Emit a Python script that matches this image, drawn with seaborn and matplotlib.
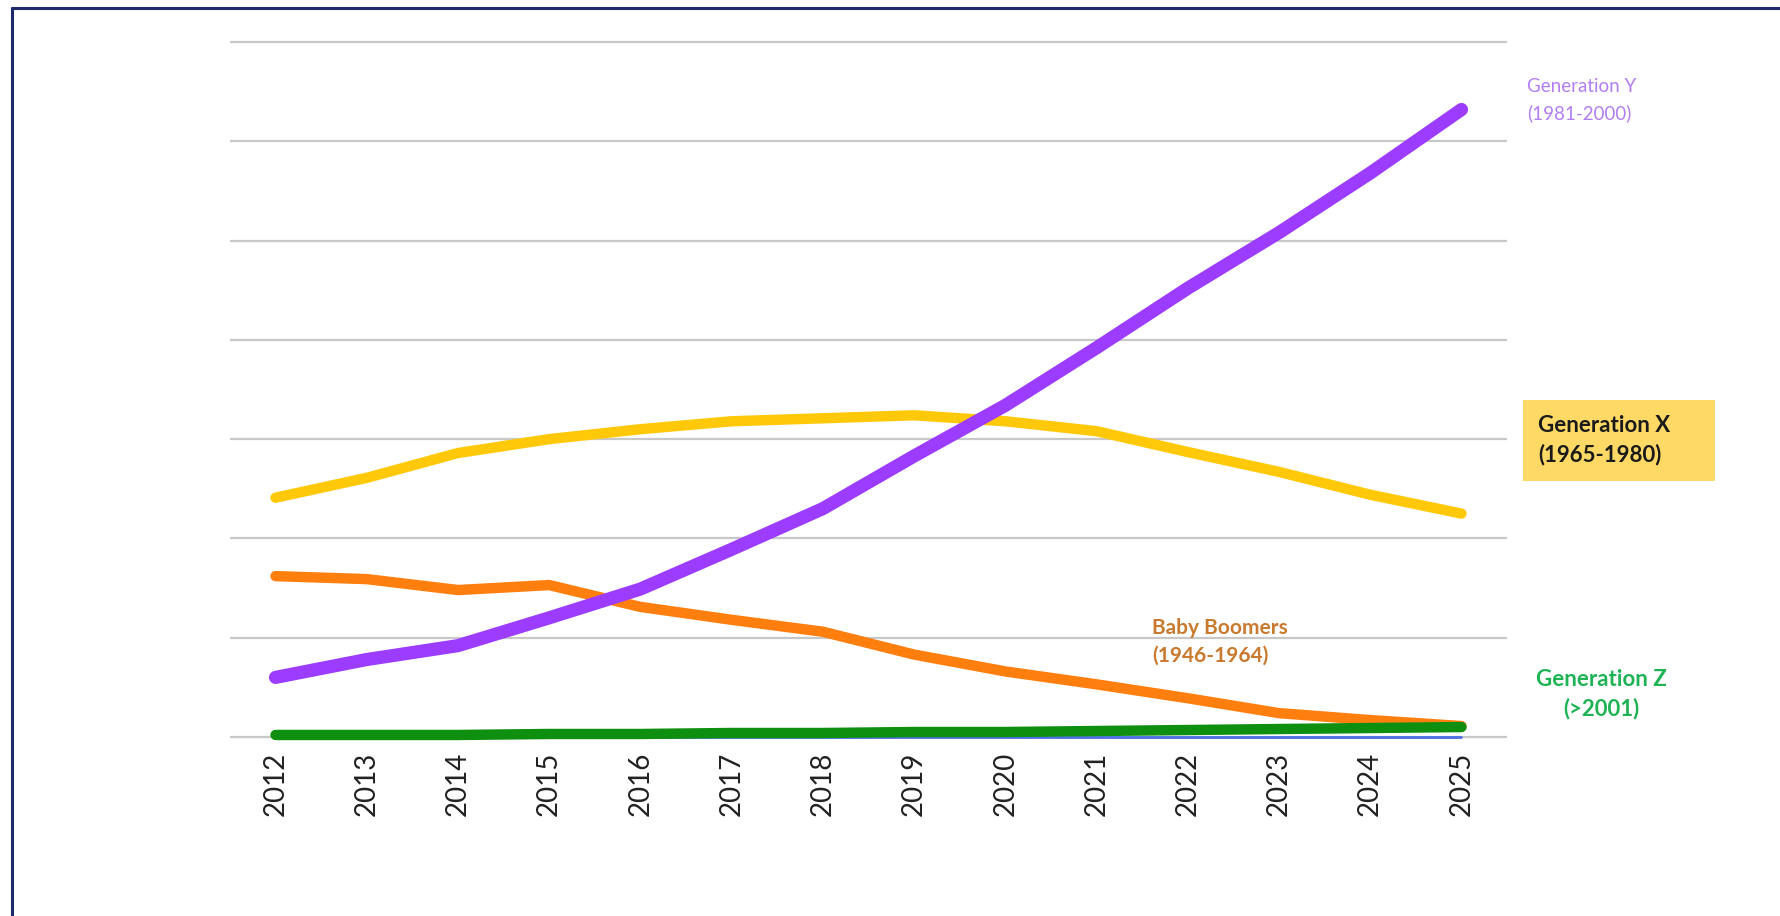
import matplotlib
matplotlib.use("Agg")
import matplotlib.pyplot as plt
from matplotlib.lines import Line2D
from matplotlib.patches import Rectangle
import seaborn as sns
import pandas as pd

years = [2012, 2013, 2014, 2015, 2016, 2017, 2018, 2019, 2020, 2021, 2022, 2023, 2024, 2025]
gen_y = [6.0, 7.8, 9.2, 12.0, 14.9, 18.9, 23.0, 28.3, 33.4, 39.2, 45.2, 50.8, 56.8, 63.2]
gen_x = [24.1, 26.1, 28.6, 30.0, 31.0, 31.8, 32.1, 32.4, 31.8, 30.8, 28.7, 26.7, 24.4, 22.5]
boomers = [16.2, 15.9, 14.8, 15.3, 13.1, 11.8, 10.6, 8.3, 6.6, 5.3, 3.9, 2.4, 1.7, 1.1]
gen_z = [0.2, 0.2, 0.2, 0.3, 0.3, 0.4, 0.4, 0.5, 0.5, 0.6, 0.7, 0.8, 0.9, 1.0]
older = [0.0] * 14

series_names = ["Older", "Baby Boomers", "Generation X", "Generation Z", "Generation Y"]
series_values = [older, boomers, gen_x, gen_z, gen_y]
colors = ["#4a6fe3", "#ff7f0e", "#ffc90a", "#0f8f0f", "#9b3cff"]
widths = [2, 7.5, 7.5, 7.5, 9.5]

sns.set_theme(style="white")
plt.rcParams["font.family"] = ["Lato", "DejaVu Sans"]

df = pd.DataFrame({
    "year": [y for _ in series_names for y in years],
    "value": [v for vals in series_values for v in vals],
    "series": [n for n, vals in zip(series_names, series_values) for _ in vals],
})

fig = plt.figure(figsize=(17.81, 9.16), dpi=100)
ax = fig.add_axes([0.1291, 0.1792, 0.7171, 0.7912])

sns.lineplot(data=df, x="year", y="value", hue="series", hue_order=series_names,
             palette=dict(zip(series_names, colors)), ax=ax, legend=False,
             estimator=None, sort=False)

for i, line in enumerate(ax.lines[:len(series_names)]):
    line.set_linewidth(widths[i])
    line.set_solid_capstyle("round")
    line.set_solid_joinstyle("round")
    line.set_zorder(3 + i)

ax.set_xlim(2011.5, 2025.5)
ax.set_ylim(-1.5, 71.5)
ax.set_yticks(range(0, 71, 10))
ax.set_yticklabels([])
ax.grid(axis="y", color="#c8c8c8", linewidth=1.6)
ax.grid(axis="x", visible=False)
for s in ax.spines.values():
    s.set_visible(False)
ax.set_xticks(years)
ax.set_xticklabels([str(y) for y in years], rotation=90, fontsize=20, color="#222222")
ax.tick_params(axis="x", length=0, pad=0)
ax.tick_params(axis="y", length=0)
ax.set_xlabel("")
ax.set_ylabel("")

# labels
fig.text(1527 / 1781, 1 - 100 / 916, "Generation Y\n(1981-2000)", color="#b27ef3",
         fontsize=13.5, va="center", ha="left", linespacing=1.6)
fig.add_artist(Rectangle((1523 / 1781, 1 - 481 / 916), 192 / 1781, 81 / 916,
                         transform=fig.transFigure, facecolor="#ffd966",
                         edgecolor="none", zorder=1))
fig.text(1538 / 1781, 1 - 440 / 916, "Generation X\n(1965-1980)", color="#1a1a1a",
         fontsize=16, fontweight="bold", va="center", ha="left", linespacing=1.45,
         zorder=2)
fig.text(1152 / 1781, 1 - 642 / 916, "Baby Boomers\n(1946-1964)", color="#c97a2e",
         fontsize=15, fontweight="bold", va="center", ha="left", linespacing=1.5)
fig.text(1601 / 1781, 1 - 694 / 916, "Generation Z\n(>2001)", color="#1fb356",
         fontsize=16, fontweight="bold", va="center", ha="center", linespacing=1.45)

# frame lines
fig.add_artist(Line2D([12 / 1781, 1.0], [1 - 8 / 916, 1 - 8 / 916], color="#1f2a6b",
                      linewidth=2.2, transform=fig.transFigure))
fig.add_artist(Line2D([12 / 1781, 12 / 1781], [0.0, 1 - 8 / 916], color="#1f2a6b",
                      linewidth=2.2, transform=fig.transFigure))

fig.savefig("out.png", dpi=100)
